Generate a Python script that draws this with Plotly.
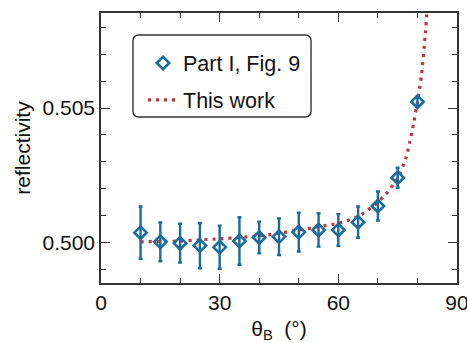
import plotly.graph_objects as go

# Measured points (Part I, Fig. 9)
theta_meas = [10, 15, 20, 25, 30, 35, 40, 45, 50, 55, 60, 65, 70, 75, 80]
refl_meas = [0.50037, 0.50003, 0.49998, 0.49989, 0.49983, 0.50006, 0.50019, 0.50022,
             0.50039, 0.50047, 0.50047, 0.50076, 0.50136, 0.50241, 0.50523]
refl_err = [0.00097, 0.00072, 0.00072, 0.00084, 0.00080, 0.00088, 0.00059, 0.00068,
            0.00072, 0.00062, 0.00059, 0.00058, 0.00054, 0.00037, 0.00015]

# Theory curve (This work)
theta_th = [10, 15, 20, 25, 30, 35, 40, 45, 50, 55, 60, 65, 70, 72, 75, 77, 78, 79, 80, 81, 82, 82.6]
refl_th = [0.50003, 0.50004, 0.50006, 0.50010, 0.50014, 0.50019, 0.50025, 0.50035,
           0.50047, 0.50059, 0.50072, 0.50097, 0.50150, 0.50180, 0.50239, 0.50310,
           0.50369, 0.50440, 0.50523, 0.50620, 0.50778, 0.50900]

x_ticks = [0, 30, 60, 90]
y_ticks = [0.500, 0.505]
y_ticktext = ["0.500", "0.505"]

BLUE = "#1a6c9e"
RED = "#b8383e"
AX = "#333333"
FONT = "Liberation Sans, Arial, sans-serif"

fig = go.Figure()
fig.add_trace(go.Scatter(
    x=theta_th, y=refl_th, mode="lines", name="This work",
    line=dict(color=RED, width=3.2, dash="3px,5px", shape="spline", smoothing=0.6),
    legend="legend2", cliponaxis=True,
))
fig.add_trace(go.Scatter(
    x=theta_meas, y=refl_meas, mode="markers", name="Part I, Fig. 9",
    marker=dict(symbol="diamond-open", size=9.5, color=BLUE, line=dict(width=2.6, color=BLUE)),
    error_y=dict(type="data", array=refl_err, visible=True, color=BLUE, thickness=2.4, width=2),
    legend="legend",
))

axis_common = dict(
    showline=True, linecolor=AX, linewidth=1.5, mirror="ticks",
    ticks="inside", tickcolor=AX, tickwidth=1.3, ticklen=9,
    showgrid=False, zeroline=False, automargin=False,
    ticklabeloverflow="allow",
    tickfont=dict(family=FONT, size=21, color="#111"),
)

fig.update_layout(
    width=467, height=343,
    margin=dict(l=101, r=10, t=13, b=60),
    paper_bgcolor="white", plot_bgcolor="white",
    font=dict(family=FONT, size=21, color="#111"),
    xaxis=dict(range=[0, 90], tickvals=x_ticks,
               minor=dict(dtick=10, ticks="inside", ticklen=5, tickcolor=AX, tickwidth=1.3),
               title=dict(text="θ<sub>B</sub>  (°)", standoff=13, font=dict(size=21)),
               **axis_common),
    yaxis=dict(range=[0.4985, 0.50853], tickvals=y_ticks, ticktext=y_ticktext,
               minor=dict(dtick=0.001, tick0=0.5, ticks="inside", ticklen=5, tickcolor=AX, tickwidth=1.3),
               title=dict(text="reflectivity", standoff=6, font=dict(size=21)),
               **axis_common),
    legend=dict(x=0.118, y=0.8148, xanchor="left", yanchor="middle",
                bgcolor="rgba(0,0,0,0)", borderwidth=0,
                font=dict(family=FONT, size=21.5, color="#111")),
    legend2=dict(x=0.118, y=0.6778, xanchor="left", yanchor="middle",
                 bgcolor="rgba(0,0,0,0)", borderwidth=0,
                 font=dict(family=FONT, size=21.5, color="#111")),
    showlegend=True,
)

# rounded legend frame
x0, x1 = (133 - 101) / 356, (311 - 101) / 356
y0, y1 = (283 - 117) / 270, (283 - 35) / 270
rx, ry = 6 / 356, 6 / 270
path = (f"M {x0+rx},{y1} L {x1-rx},{y1} Q {x1},{y1} {x1},{y1-ry} "
        f"L {x1},{y0+ry} Q {x1},{y0} {x1-rx},{y0} L {x0+rx},{y0} "
        f"Q {x0},{y0} {x0},{y0+ry} L {x0},{y1-ry} Q {x0},{y1} {x0+rx},{y1} Z")
fig.add_shape(type="path", path=path, xref="paper", yref="paper",
              line=dict(color=AX, width=1.4), fillcolor="rgba(0,0,0,0)", layer="above")

fig.write_html("out.html")
